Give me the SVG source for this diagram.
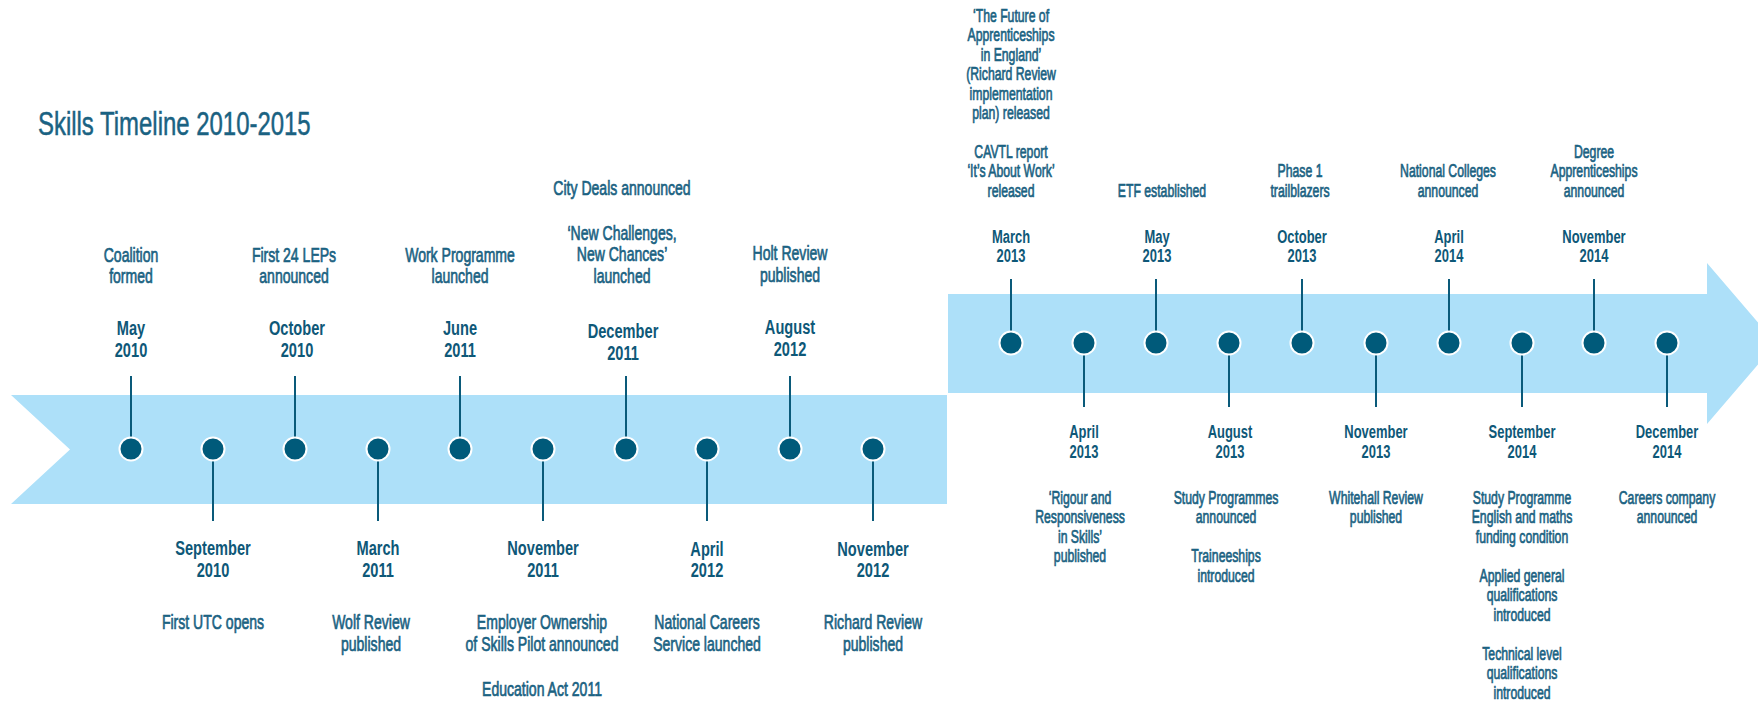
<svg xmlns="http://www.w3.org/2000/svg" width="1758" height="702" viewBox="0 0 1758 702">
<style>
.band{fill:#ade0f9}
.dot{fill:#005a7a;stroke:#ffffff;stroke-width:2}
.stem{stroke:#0a5a7a;stroke-width:2;fill:none}
text{font-family:"Liberation Sans",Arial,sans-serif;text-anchor:middle}
.d{font-size:20.5px;fill:#1a6282;stroke:#1a6282;stroke-width:0.7}
.t{font-size:20.5px;font-weight:bold;fill:#0e5878}
.R .d,.R .t{font-size:18.3px}
.title{font-size:34px;fill:#1a6282;stroke:#1a6282;stroke-width:0.5;text-anchor:start}
</style>
<rect width="1758" height="702" fill="#ffffff"/>
<g id="bands">
<polygon class="band" points="11,395 947,395 947,504 11,504 70,449.5"/>
<polygon class="band" points="948,294 1707,294 1707,263 1776,343.5 1707,424 1707,393 948,393"/>
</g>
<g id="title"><text class="title" transform="translate(38 135) scale(0.704 1)" x="0" y="0">Skills Timeline 2010-2015</text></g>
<g id="connectors">
<line class="stem" x1="131" y1="376" x2="131" y2="449"/>
<line class="stem" x1="213" y1="449" x2="213" y2="521"/>
<line class="stem" x1="295" y1="376" x2="295" y2="449"/>
<line class="stem" x1="378" y1="449" x2="378" y2="521"/>
<line class="stem" x1="460" y1="376" x2="460" y2="449"/>
<line class="stem" x1="543" y1="449" x2="543" y2="521"/>
<line class="stem" x1="626" y1="376" x2="626" y2="449"/>
<line class="stem" x1="707" y1="449" x2="707" y2="521"/>
<line class="stem" x1="790" y1="376" x2="790" y2="449"/>
<line class="stem" x1="873" y1="449" x2="873" y2="521"/>
<line class="stem" x1="1011" y1="279" x2="1011" y2="343"/>
<line class="stem" x1="1084" y1="343" x2="1084" y2="407"/>
<line class="stem" x1="1156" y1="279" x2="1156" y2="343"/>
<line class="stem" x1="1229" y1="343" x2="1229" y2="407"/>
<line class="stem" x1="1302" y1="279" x2="1302" y2="343"/>
<line class="stem" x1="1376" y1="343" x2="1376" y2="407"/>
<line class="stem" x1="1449" y1="279" x2="1449" y2="343"/>
<line class="stem" x1="1522" y1="343" x2="1522" y2="407"/>
<line class="stem" x1="1594" y1="279" x2="1594" y2="343"/>
<line class="stem" x1="1667" y1="343" x2="1667" y2="407"/>
</g>
<g id="may2010"><circle class="dot" cx="131" cy="449" r="11.5"/>
<g transform="translate(131 0) scale(0.685 1)"><text class="d" x="0" y="262">Coalition</text><text class="d" x="0" y="283.5">formed</text></g>
<g transform="translate(131 0) scale(0.713 1)"><text class="t" x="0" y="335">May</text><text class="t" x="0" y="357">2010</text></g></g>
<g id="sep2010"><circle class="dot" cx="213" cy="449" r="11.5"/>
<g transform="translate(213 0) scale(0.713 1)"><text class="t" x="0" y="555">September</text><text class="t" x="0" y="577">2010</text></g>
<g transform="translate(213 0) scale(0.685 1)"><text class="d" x="0" y="629">First UTC opens</text></g></g>
<g id="oct2010"><circle class="dot" cx="295" cy="449" r="11.5"/>
<g transform="translate(294 0) scale(0.685 1)"><text class="d" x="0" y="262">First 24 LEPs</text><text class="d" x="0" y="283.5">announced</text></g>
<g transform="translate(297 0) scale(0.713 1)"><text class="t" x="0" y="335">October</text><text class="t" x="0" y="357">2010</text></g></g>
<g id="mar2011"><circle class="dot" cx="378" cy="449" r="11.5"/>
<g transform="translate(378 0) scale(0.713 1)"><text class="t" x="0" y="555">March</text><text class="t" x="0" y="577">2011</text></g>
<g transform="translate(371 0) scale(0.685 1)"><text class="d" x="0" y="629">Wolf Review</text><text class="d" x="0" y="651">published</text></g></g>
<g id="jun2011"><circle class="dot" cx="460" cy="449" r="11.5"/>
<g transform="translate(460 0) scale(0.685 1)"><text class="d" x="0" y="262">Work Programme</text><text class="d" x="0" y="283.5">launched</text></g>
<g transform="translate(460 0) scale(0.713 1)"><text class="t" x="0" y="335">June</text><text class="t" x="0" y="357">2011</text></g></g>
<g id="nov2011"><circle class="dot" cx="543" cy="449" r="11.5"/>
<g transform="translate(543 0) scale(0.713 1)"><text class="t" x="0" y="555">November</text><text class="t" x="0" y="577">2011</text></g>
<g transform="translate(542 0) scale(0.685 1)"><text class="d" x="0" y="629">Employer Ownership</text><text class="d" x="0" y="651">of Skills Pilot announced</text><text class="d" x="0" y="696">Education Act 2011</text></g></g>
<g id="dec2011"><circle class="dot" cx="626" cy="449" r="11.5"/>
<g transform="translate(622 0) scale(0.685 1)"><text class="d" x="0" y="195">City Deals announced</text><text class="d" x="0" y="240">‘New Challenges,</text><text class="d" x="0" y="261.5">New Chances’</text><text class="d" x="0" y="283">launched</text></g>
<g transform="translate(623 0) scale(0.713 1)"><text class="t" x="0" y="338">December</text><text class="t" x="0" y="360">2011</text></g></g>
<g id="apr2012"><circle class="dot" cx="707" cy="449" r="11.5"/>
<g transform="translate(707 0) scale(0.713 1)"><text class="t" x="0" y="556">April</text><text class="t" x="0" y="577.5">2012</text></g>
<g transform="translate(707 0) scale(0.685 1)"><text class="d" x="0" y="629">National Careers</text><text class="d" x="0" y="651">Service launched</text></g></g>
<g id="aug2012"><circle class="dot" cx="790" cy="449" r="11.5"/>
<g transform="translate(790 0) scale(0.685 1)"><text class="d" x="0" y="260.5">Holt Review</text><text class="d" x="0" y="282">published</text></g>
<g transform="translate(790 0) scale(0.713 1)"><text class="t" x="0" y="334.5">August</text><text class="t" x="0" y="356.5">2012</text></g></g>
<g id="nov2012"><circle class="dot" cx="873" cy="449" r="11.5"/>
<g transform="translate(873 0) scale(0.713 1)"><text class="t" x="0" y="556">November</text><text class="t" x="0" y="577.5">2012</text></g>
<g transform="translate(873 0) scale(0.685 1)"><text class="d" x="0" y="629">Richard Review</text><text class="d" x="0" y="651">published</text></g></g>
<g class="R">
<g id="mar2013"><circle class="dot" cx="1011" cy="343" r="11.5"/>
<g transform="translate(1011 0) scale(0.669 1)"><text class="d" x="0" y="21.7">‘The Future of</text><text class="d" x="0" y="41.2">Apprenticeships</text><text class="d" x="0" y="60.7">in England’</text><text class="d" x="0" y="80.2">(Richard Review</text><text class="d" x="0" y="99.7">implementation</text><text class="d" x="0" y="119.2">plan) released</text><text class="d" x="0" y="158.5">CAVTL report</text><text class="d" x="0" y="177.5">‘It’s About Work’</text><text class="d" x="0" y="197">released</text></g>
<g transform="translate(1011 0) scale(0.708 1)"><text class="t" x="0" y="242.7">March</text><text class="t" x="0" y="262.3">2013</text></g></g>
<g id="apr2013"><circle class="dot" cx="1084" cy="343" r="11.5"/>
<g transform="translate(1084 0) scale(0.708 1)"><text class="t" x="0" y="438.3">April</text><text class="t" x="0" y="457.8">2013</text></g>
<g transform="translate(1080 0) scale(0.669 1)"><text class="d" x="0" y="504">‘Rigour and</text><text class="d" x="0" y="523.5">Responsiveness</text><text class="d" x="0" y="543">in Skills’</text><text class="d" x="0" y="562.5">published</text></g></g>
<g id="may2013"><circle class="dot" cx="1156" cy="343" r="11.5"/>
<g transform="translate(1162 0) scale(0.669 1)"><text class="d" x="0" y="197">ETF established</text></g>
<g transform="translate(1157 0) scale(0.708 1)"><text class="t" x="0" y="242.7">May</text><text class="t" x="0" y="262.3">2013</text></g></g>
<g id="aug2013"><circle class="dot" cx="1229" cy="343" r="11.5"/>
<g transform="translate(1230 0) scale(0.708 1)"><text class="t" x="0" y="438.3">August</text><text class="t" x="0" y="457.8">2013</text></g>
<g transform="translate(1226 0) scale(0.669 1)"><text class="d" x="0" y="504">Study Programmes</text><text class="d" x="0" y="523.5">announced</text><text class="d" x="0" y="562.5">Traineeships</text><text class="d" x="0" y="582">introduced</text></g></g>
<g id="oct2013"><circle class="dot" cx="1302" cy="343" r="11.5"/>
<g transform="translate(1300 0) scale(0.669 1)"><text class="d" x="0" y="177.5">Phase 1</text><text class="d" x="0" y="197">trailblazers</text></g>
<g transform="translate(1302 0) scale(0.708 1)"><text class="t" x="0" y="242.7">October</text><text class="t" x="0" y="262.3">2013</text></g></g>
<g id="nov2013"><circle class="dot" cx="1376" cy="343" r="11.5"/>
<g transform="translate(1376 0) scale(0.708 1)"><text class="t" x="0" y="438.3">November</text><text class="t" x="0" y="457.8">2013</text></g>
<g transform="translate(1376 0) scale(0.669 1)"><text class="d" x="0" y="504">Whitehall Review</text><text class="d" x="0" y="523.5">published</text></g></g>
<g id="apr2014"><circle class="dot" cx="1449" cy="343" r="11.5"/>
<g transform="translate(1448 0) scale(0.669 1)"><text class="d" x="0" y="177.5">National Colleges</text><text class="d" x="0" y="197">announced</text></g>
<g transform="translate(1449 0) scale(0.708 1)"><text class="t" x="0" y="242.7">April</text><text class="t" x="0" y="262.3">2014</text></g></g>
<g id="sep2014"><circle class="dot" cx="1522" cy="343" r="11.5"/>
<g transform="translate(1522 0) scale(0.708 1)"><text class="t" x="0" y="438.3">September</text><text class="t" x="0" y="457.8">2014</text></g>
<g transform="translate(1522 0) scale(0.669 1)"><text class="d" x="0" y="504">Study Programme</text><text class="d" x="0" y="523.5">English and maths</text><text class="d" x="0" y="543">funding condition</text><text class="d" x="0" y="582">Applied general</text><text class="d" x="0" y="601.5">qualifications</text><text class="d" x="0" y="621">introduced</text><text class="d" x="0" y="660">Technical level</text><text class="d" x="0" y="679.5">qualifications</text><text class="d" x="0" y="699">introduced</text></g></g>
<g id="nov2014"><circle class="dot" cx="1594" cy="343" r="11.5"/>
<g transform="translate(1594 0) scale(0.669 1)"><text class="d" x="0" y="158.5">Degree</text><text class="d" x="0" y="177.5">Apprenticeships</text><text class="d" x="0" y="197">announced</text></g>
<g transform="translate(1594 0) scale(0.708 1)"><text class="t" x="0" y="242.7">November</text><text class="t" x="0" y="262.3">2014</text></g></g>
<g id="dec2014"><circle class="dot" cx="1667" cy="343" r="11.5"/>
<g transform="translate(1667 0) scale(0.708 1)"><text class="t" x="0" y="438.3">December</text><text class="t" x="0" y="457.8">2014</text></g>
<g transform="translate(1667 0) scale(0.669 1)"><text class="d" x="0" y="504">Careers company</text><text class="d" x="0" y="523.5">announced</text></g></g>
</g>
</svg>
